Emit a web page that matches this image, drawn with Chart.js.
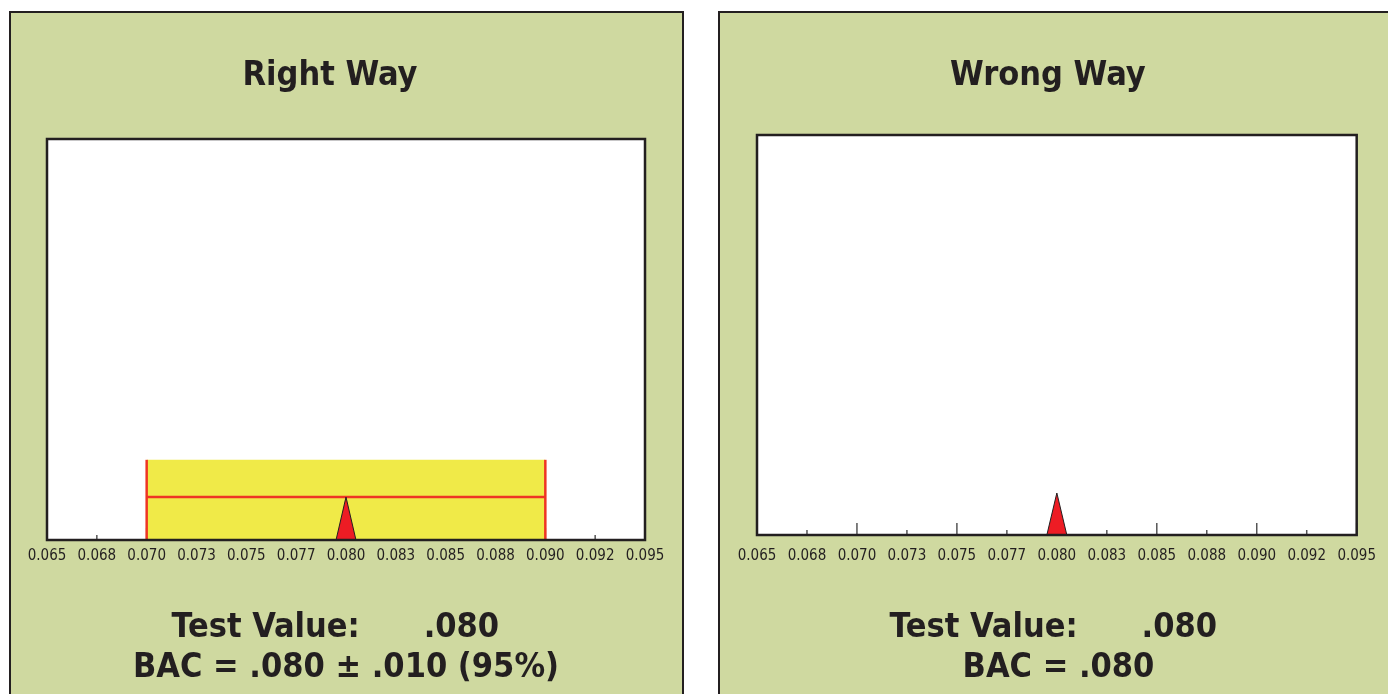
<!DOCTYPE html>
<html>
<head>
<meta charset="utf-8">
<script src="https://cdn.jsdelivr.net/npm/chart.js@4.4.1/dist/chart.umd.min.js"></script>
<style>
  html, body { margin: 0; padding: 0; background: #fff; overflow: hidden; }
  .panel { position: absolute; top: 11px; height: 700px; background: #cfd9a0; border: 2px solid #231f20; }
  #leftPanel { left: 9px; width: 671px; }
  #rightPanel { left: 718px; width: 700px; }
  canvas { position: absolute; left: 0; top: 0; }
</style>
</head>
<body>
<div class="panel" id="leftPanel"><canvas id="rightWayChart" width="671" height="681"></canvas></div>
<div class="panel" id="rightPanel"><canvas id="wrongWayChart" width="668" height="681"></canvas></div>
<script>
// axis
var tickLabels = ['0.065', '0.068', '0.070', '0.073', '0.075', '0.077', '0.080', '0.083', '0.085', '0.088', '0.090', '0.092', '0.095'];
var axisMin = 0.065;
var axisMax = 0.095;
var axisStep = 0.0025;

// measurement
var testValue = 0.080;
var uncertainty = 0.010;   // 95% interval half width

var panelTitles = ['Right Way', 'Wrong Way'];
var resultLines = [
    ['Test Value:      .080  ', 'BAC = .080 \u00b1 .010 (95%)'],
    ['Test Value:      .080 ', 'BAC = .080']
];

// drawing sizes (not data)
var bandHeight = 2.0;
var markerHalfWidth = 0.0005;

Chart.defaults.font.family = "'Liberation Sans Narrow', 'DejaVu Sans Condensed', sans-serif";
Chart.defaults.color = '#231f20';

var plotFrame = {
    id: 'plotFrame',
    beforeDatasetsDraw: function (chart) {
        var a = chart.chartArea, ctx = chart.ctx, xs = chart.scales.x;
        ctx.save();
        ctx.fillStyle = '#ffffff';
        ctx.fillRect(a.left, a.top, a.right - a.left, a.bottom - a.top);
        ctx.strokeStyle = '#555555';
        ctx.lineWidth = 1.5;
        xs.ticks.forEach(function (t, i) {
            var px = xs.getPixelForValue(t.value);
            var len = i % 2 === 0 ? 12 : 5;
            ctx.beginPath();
            ctx.moveTo(px, a.bottom);
            ctx.lineTo(px, a.bottom - len);
            ctx.stroke();
        });
        ctx.restore();
    },
    afterDatasetsDraw: function (chart) {
        var a = chart.chartArea, ctx = chart.ctx;
        ctx.save();
        ctx.strokeStyle = '#231f20';
        ctx.lineWidth = 2.5;
        ctx.strokeRect(a.left, a.top, a.right - a.left, a.bottom - a.top);
        ctx.restore();
    }
};

function markerDataset(top) {
    return {
        data: [
            {x: testValue - markerHalfWidth, y: 0},
            {x: testValue, y: top},
            {x: testValue + markerHalfWidth, y: 0}
        ],
        showLine: true, fill: 'origin',
        backgroundColor: '#ed1c24', borderColor: '#231f20', borderWidth: 1,
        pointRadius: 0
    };
}

function makeOptions(title, lines, pad, tickPad, titlePad, subPad) {
    return {
        responsive: false,
        animation: false,
        layout: {padding: pad},
        plugins: {
            legend: {display: false},
            tooltip: {enabled: false},
            title: {
                display: true, text: title,
                font: {size: 34, weight: 'bold', lineHeight: 1.2},
                padding: titlePad
            },
            subtitle: {
                display: true, position: 'bottom', text: lines,
                font: {size: 34, weight: 'bold', lineHeight: 40 / 34},
                padding: subPad
            }
        },
        scales: {
            x: {
                type: 'linear', min: axisMin, max: axisMax,
                grid: {display: false, tickLength: 0},
                border: {display: false},
                ticks: {
                    stepSize: axisStep, autoSkip: false, maxRotation: 0,
                    padding: tickPad,
                    font: {size: 15},
                    color: '#231f20',
                    callback: function (v, i) { return tickLabels[i]; }
                }
            },
            y: {min: 0, max: 10, display: false}
        }
    };
}

var lo = testValue - uncertainty, hi = testValue + uncertainty;
var midLine = 1.07;

new Chart(document.getElementById('rightWayChart'), {
    type: 'scatter',
    data: {
        datasets: [
            markerDataset(midLine),
            {data: [{x: lo, y: midLine}, {x: hi, y: midLine}], showLine: true, borderColor: '#ee3524', borderWidth: 2.5, pointRadius: 0},
            {data: [{x: lo, y: 0}, {x: lo, y: bandHeight}], showLine: true, borderColor: '#ee3524', borderWidth: 2.5, pointRadius: 0},
            {data: [{x: hi, y: 0}, {x: hi, y: bandHeight}], showLine: true, borderColor: '#ee3524', borderWidth: 2.5, pointRadius: 0},
            {data: [{x: lo, y: bandHeight}, {x: hi, y: bandHeight}], showLine: true, fill: 'origin', backgroundColor: '#f0ea48', borderWidth: 0, pointRadius: 0}
        ]
    },
    options: makeOptions(panelTitles[0] + '   ', resultLines[0], {left: 36, right: 37, top: 0, bottom: 0}, 7, {top: 42.6, bottom: 42.6}, {top: 36, bottom: 6}),
    plugins: [plotFrame]
});

new Chart(document.getElementById('wrongWayChart'), {
    type: 'scatter',
    data: {
        datasets: [markerDataset(1.05)]
    },
    options: makeOptions(panelTitles[1] + '  ', resultLines[1], {left: 37, right: 28, top: 0, bottom: 0}, 12, {top: 42.6, bottom: 38.6}, {top: 31, bottom: 6}),
    plugins: [plotFrame]
});
</script>
</body>
</html>
